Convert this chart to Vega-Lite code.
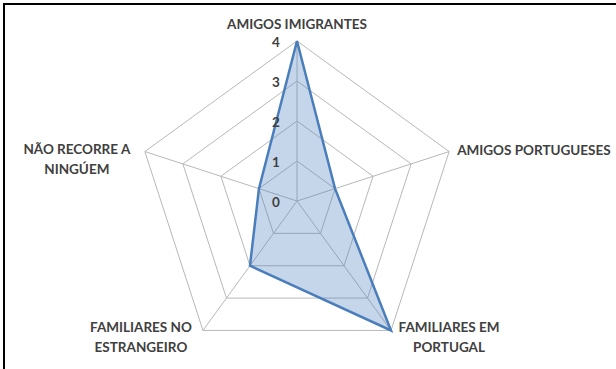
{
  "$schema": "https://vega.github.io/schema/vega-lite/v6.json",
  "width": 616,
  "height": 369,
  "autosize": {"type": "none"},
  "padding": {"left": 4, "top": 4, "right": 0, "bottom": 0},
  "background": "white",
  "config": {"view": {"stroke": "#000000", "strokeWidth": 2}},
  "datasets": {
    "series": [
      {"cat": "AMIGOS IMIGRANTES", "i": 0, "value": 4},
      {"cat": "AMIGOS PORTUGUESES", "i": 1, "value": 1},
      {"cat": "FAMILIARES EM PORTUGAL", "i": 2, "value": 4},
      {"cat": "FAMILIARES NO ESTRANGEIRO", "i": 3, "value": 2},
      {"cat": "NÃO RECORRE A NINGÚEM", "i": 4, "value": 1}
    ],
    "grid": [
      {"level": 1, "i": 0}, {"level": 1, "i": 1}, {"level": 1, "i": 2}, {"level": 1, "i": 3}, {"level": 1, "i": 4},
      {"level": 2, "i": 0}, {"level": 2, "i": 1}, {"level": 2, "i": 2}, {"level": 2, "i": 3}, {"level": 2, "i": 4},
      {"level": 3, "i": 0}, {"level": 3, "i": 1}, {"level": 3, "i": 2}, {"level": 3, "i": 3}, {"level": 3, "i": 4},
      {"level": 4, "i": 0}, {"level": 4, "i": 1}, {"level": 4, "i": 2}, {"level": 4, "i": 3}, {"level": 4, "i": 4}
    ],
    "ticks": [{"t": 0}, {"t": 1}, {"t": 2}, {"t": 3}, {"t": 4}]
  },
  "encoding": {
    "x": {"field": "x", "type": "quantitative", "scale": {"domain": [-7.325, 8.075], "nice": false, "zero": false}, "axis": null},
    "y": {"field": "y", "type": "quantitative", "scale": {"domain": [-4.3, 4.925], "nice": false, "zero": false}, "axis": null}
  },
  "layer": [
    {
      "data": {"name": "grid"},
      "transform": [
        {"calculate": "datum.i * 2 * PI / 5", "as": "a"},
        {"calculate": "datum.level * sin(datum.a)", "as": "x"},
        {"calculate": "datum.level * cos(datum.a)", "as": "y"}
      ],
      "mark": {"type": "line", "interpolate": "linear-closed", "stroke": "#b8b8b8", "strokeWidth": 1},
      "encoding": {"detail": {"field": "level"}, "order": {"field": "i"}}
    },
    {
      "data": {"name": "series"},
      "transform": [
        {"calculate": "datum.i * 2 * PI / 5", "as": "a"},
        {"calculate": "0", "as": "x"},
        {"calculate": "0", "as": "y"},
        {"calculate": "4 * sin(datum.a)", "as": "x2"},
        {"calculate": "4 * cos(datum.a)", "as": "y2"}
      ],
      "mark": {"type": "rule", "stroke": "#b8b8b8", "strokeWidth": 1},
      "encoding": {"x2": {"field": "x2"}, "y2": {"field": "y2"}}
    },
    {
      "data": {"name": "series"},
      "transform": [
        {"calculate": "datum.i * 2 * PI / 5", "as": "a"},
        {"calculate": "datum.value * sin(datum.a)", "as": "x"},
        {"calculate": "datum.value * cos(datum.a)", "as": "y"}
      ],
      "mark": {"type": "line", "interpolate": "linear-closed", "fill": "#4f81bd", "fillOpacity": 0.32, "stroke": "#4a7ebb", "strokeWidth": 2.5, "strokeJoin": "miter"},
      "encoding": {"order": {"field": "i"}}
    },
    {
      "data": {"name": "ticks"},
      "transform": [
        {"calculate": "0", "as": "x"},
        {"calculate": "datum.t", "as": "y"}
      ],
      "mark": {"type": "text", "dx": -21, "dy": 2, "align": "center", "baseline": "middle", "font": "Lato", "fontSize": 13.5, "fontWeight": "bold", "fill": "#404040"},
      "encoding": {"text": {"field": "t", "type": "quantitative"}}
    },
    {
      "data": {"name": "series"},
      "transform": [
        {"filter": "datum.i == 0"},
        {"calculate": "0", "as": "x"},
        {"calculate": "4", "as": "y"}
      ],
      "mark": {"type": "text", "dy": -16, "align": "center", "baseline": "middle", "font": "Lato", "fontSize": 13.5, "fontWeight": "bold", "fill": "#404040"},
      "encoding": {"text": {"field": "cat"}}
    },
    {
      "data": {"name": "series"},
      "transform": [
        {"filter": "datum.i == 1"},
        {"calculate": "4 * sin(2 * PI / 5)", "as": "x"},
        {"calculate": "4 * cos(2 * PI / 5)", "as": "y"}
      ],
      "mark": {"type": "text", "dx": 8, "dy": -1, "align": "left", "baseline": "middle", "font": "Lato", "fontSize": 13.5, "fontWeight": "bold", "fill": "#404040"},
      "encoding": {"text": {"field": "cat"}}
    },
    {
      "data": {"name": "series"},
      "transform": [
        {"filter": "datum.i == 2"},
        {"calculate": "4 * sin(4 * PI / 5)", "as": "x"},
        {"calculate": "4 * cos(4 * PI / 5)", "as": "y"}
      ],
      "mark": {"type": "text", "dx": 58, "dy": -2, "align": "center", "baseline": "middle", "lineHeight": 20, "font": "Lato", "fontSize": 13.5, "fontWeight": "bold", "fill": "#404040"},
      "encoding": {"text": {"value": ["FAMILIARES EM", "PORTUGAL"]}}
    },
    {
      "data": {"name": "series"},
      "transform": [
        {"filter": "datum.i == 3"},
        {"calculate": "4 * sin(6 * PI / 5)", "as": "x"},
        {"calculate": "4 * cos(6 * PI / 5)", "as": "y"}
      ],
      "mark": {"type": "text", "dx": -62, "dy": -2, "align": "center", "baseline": "middle", "lineHeight": 20, "font": "Lato", "fontSize": 13.5, "fontWeight": "bold", "fill": "#404040"},
      "encoding": {"text": {"value": ["FAMILIARES NO", "ESTRANGEIRO"]}}
    },
    {
      "data": {"name": "series"},
      "transform": [
        {"filter": "datum.i == 4"},
        {"calculate": "4 * sin(8 * PI / 5)", "as": "x"},
        {"calculate": "4 * cos(8 * PI / 5)", "as": "y"}
      ],
      "mark": {"type": "text", "dx": -68, "dy": -2, "align": "center", "baseline": "middle", "lineHeight": 20, "font": "Lato", "fontSize": 13.5, "fontWeight": "bold", "fill": "#404040"},
      "encoding": {"text": {"value": ["NÃO RECORRE A", "NINGÚEM"]}}
    }
  ]
}
